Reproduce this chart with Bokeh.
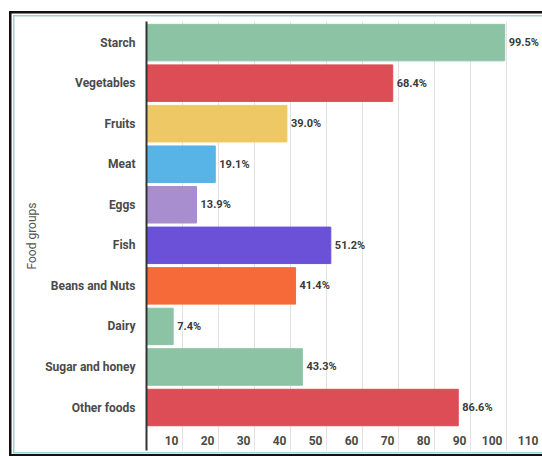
from bokeh.plotting import figure
from bokeh.models import ColumnDataSource, FixedTicker, Range1d
from bokeh.core.properties import value
from bokeh.embed import file_html
from bokeh.resources import INLINE

categories = ["Starch", "Vegetables", "Fruits", "Meat", "Eggs", "Fish",
              "Beans and Nuts", "Dairy", "Sugar and honey", "Other foods"]
values = [99.5, 68.4, 39.0, 19.1, 13.9, 51.2, 41.4, 7.4, 43.3, 86.6]
colors = ["#8cc3a5", "#dc4d55", "#efc866", "#58b3e6", "#a88ecf", "#6a51d8",
          "#f66a3a", "#8cc3a5", "#8cc3a5", "#dc4d55"]
x_ticks = [10, 20, 30, 40, 50, 60, 70, 80, 90, 100, 110]
x_tick_labels = [str(t) for t in x_ticks]

n = len(categories)
pos = [n - 1 - i for i in range(n)]
value_labels = [f"{v:.1f}%" for v in values]

src = ColumnDataSource(dict(cat=categories, val=values, pos=pos,
                            color=colors, lab=value_labels))

frame_css = {
    "background-color": "white",
    "background-image": ", ".join(["linear-gradient(#111111, #111111)"] * 3
                                  + ["linear-gradient(#9fd3d8, #9fd3d8)"] * 3),
    "background-position": "9px 11px, 9px 11px, 9px 453.5px, "
                           "13px 14.5px, 13px 14.5px, 13px 451.5px",
    "background-size": "2.5px 445px, 540px 2.5px, 540px 2.5px, "
                       "1.5px 438.5px, 540px 1.5px, 540px 1.5px",
    "background-repeat": "no-repeat",
}

p = figure(width=542, height=456, output_backend="svg", toolbar_location=None,
           x_range=Range1d(0, 110), y_range=Range1d(-1.06, 9.52),
           x_axis_location=None, y_axis_location="left",
           min_border_left=146, min_border_top=21, min_border_right=0,
           min_border_bottom=6, styles=frame_css)
p.outline_line_color = None
p.background_fill_color = "white"
p.border_fill_color = None

p.xgrid.ticker = FixedTicker(ticks=x_ticks)
p.xgrid.grid_line_color = "#e2e2e2"
p.xgrid.grid_line_width = 1
p.ygrid.grid_line_color = None

p.hbar(y="pos", right="val", left=0, height=0.9, color="color", source=src)

p.text(x="val", y="pos", text="lab", source=src, x_offset=4,
       text_baseline="middle", text_align="left",
       text_font=value("Roboto"), text_font_style="bold",
       text_font_size="11px", text_color="#3a3a3a")

p.text(x=x_ticks, y=[-0.81] * len(x_ticks), text=x_tick_labels,
       x_offset=-4, text_baseline="middle", text_align="right",
       text_font=value("Roboto"), text_font_style="bold",
       text_font_size="12px", text_color="#4a4a4a")

ya = p.yaxis[0]
ya.ticker = FixedTicker(ticks=pos)
ya.major_label_overrides = {pp: c for pp, c in zip(pos, categories)}
ya.major_tick_out = 0
ya.major_tick_in = 0
ya.minor_tick_out = 0
ya.minor_tick_in = 0
ya.axis_line_color = "#333333"
ya.axis_line_width = 2
ya.major_label_standoff = 11
ya.major_label_text_font = "Roboto"
ya.major_label_text_font_style = "bold"
ya.major_label_text_font_size = "12px"
ya.major_label_text_color = "#4a4a4a"
ya.axis_label = "Food groups"
ya.axis_label_standoff = 3
ya.axis_label_text_font = "Roboto"
ya.axis_label_text_font_style = "normal"
ya.axis_label_text_font_size = "12px"
ya.axis_label_text_color = "#555555"

open("out.html", "w").write(file_html(p, INLINE))
